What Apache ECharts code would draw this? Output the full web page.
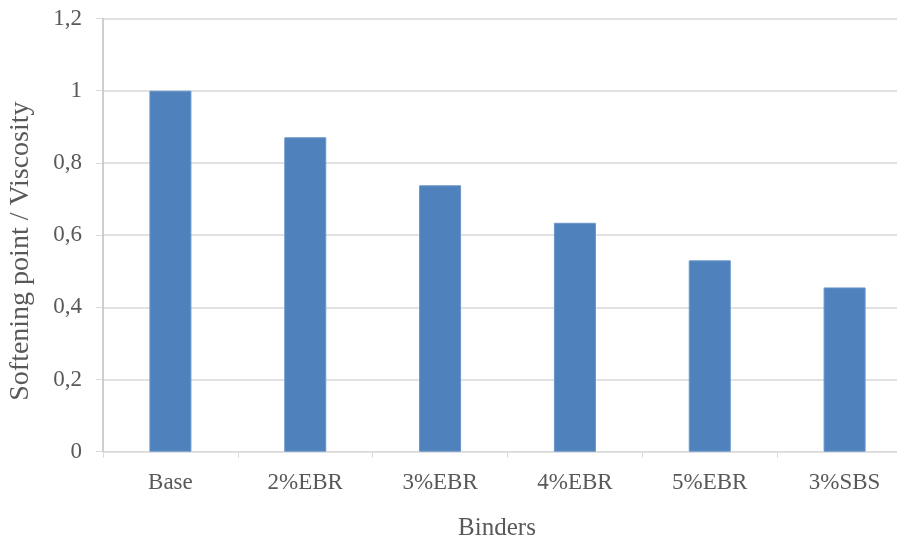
<!DOCTYPE html>
<html>
<head>
<meta charset="utf-8">
<script src="https://cdn.jsdelivr.net/npm/echarts@6/dist/echarts.min.js"></script>
<style>
  html, body { margin: 0; padding: 0; background: #ffffff; }
  #chart { width: 897px; height: 540px; }
</style>
</head>
<body>
<div id="chart"></div>
<script>
// Binder types on the category axis
const binders = ['Base', '2%EBR', '3%EBR', '4%EBR', '5%EBR', '3%SBS'];
// Softening point / viscosity ratio per binder
const ratios = [1.0, 0.871, 0.738, 0.634, 0.530, 0.455];
// Value axis range and step
const yMin = 0;
const yMax = 1.2;
const yStep = 0.2;

const serif = "'Liberation Serif', 'Times New Roman', serif";
const textColor = '#595959';

const chart = echarts.init(document.getElementById('chart'), null, { renderer: 'canvas' });

chart.setOption({
  animation: false,
  backgroundColor: '#ffffff',
  grid: {
    left: 103, right: -15, top: 18.5, bottom: 88.3,
    containLabel: false,
    outerBoundsMode: 'none'
  },
  xAxis: {
    type: 'category',
    data: binders,
    name: 'Binders',
    nameLocation: 'middle',
    nameGap: 64,
    // the plot runs past the right edge, so the title is nudged left onto the visible area
    nameTextStyle: { fontFamily: serif, fontSize: 25, color: textColor, padding: [0, 21, 0, 0] },
    axisLine: { show: true, lineStyle: { color: '#d9d9d9', width: 1 } },
    axisTick: { show: true, length: 6, lineStyle: { color: '#d9d9d9' } },
    axisLabel: { fontFamily: serif, fontSize: 23, color: textColor, margin: 20 }
  },
  yAxis: {
    type: 'value',
    min: yMin,
    max: yMax,
    interval: yStep,
    name: 'Softening point / Viscosity',
    nameLocation: 'middle',
    nameGap: 68,
    nameTextStyle: { fontFamily: serif, fontSize: 28, color: textColor, padding: [0, 32, 0, 0] },
    axisLine: { show: true, lineStyle: { color: '#bfbfbf', width: 1.5 } },
    axisTick: { show: true, length: 7, lineStyle: { color: '#d9d9d9' } },
    axisLabel: {
      fontFamily: serif, fontSize: 23, color: textColor, margin: 21,
      formatter: v => String(Math.round(v * 10) / 10).replace('.', ',')
    },
    splitLine: { show: true, lineStyle: { color: '#d9d9d9', width: 1.5 } }
  },
  series: [{
    type: 'bar',
    data: ratios,
    barWidth: 42,
    itemStyle: { color: '#4f81bd', borderColor: '#6a95c9', borderWidth: 1 }
  }]
});
</script>
</body>
</html>
